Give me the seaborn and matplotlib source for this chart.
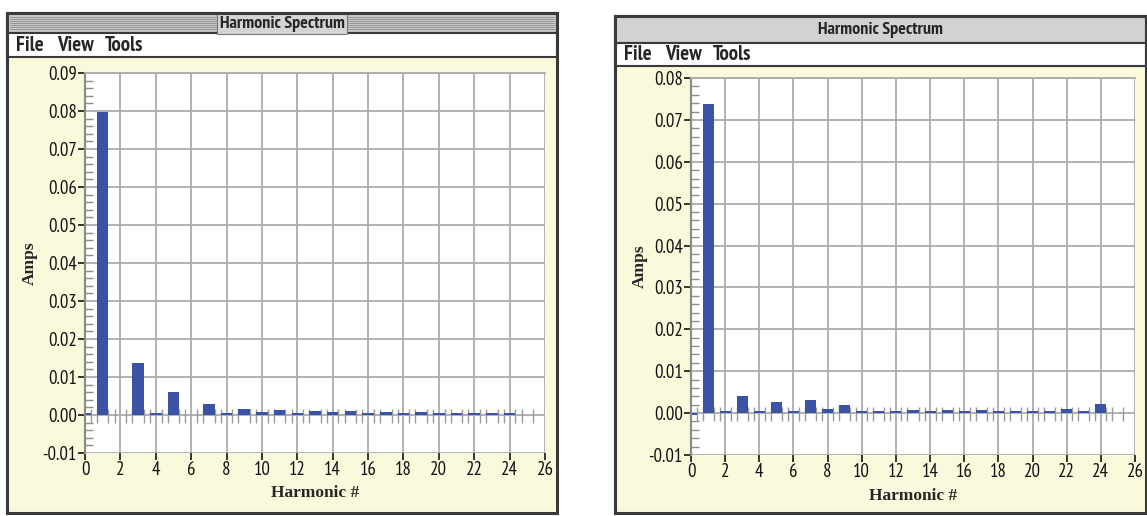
import numpy as np
import pandas as pd
import matplotlib
matplotlib.use("Agg")
import matplotlib.pyplot as plt
from matplotlib.patches import Rectangle
from matplotlib.lines import Line2D
from matplotlib.ticker import MultipleLocator, AutoMinorLocator, FormatStrFormatter
import seaborn as sns
import logging

logging.getLogger("matplotlib.font_manager").setLevel(logging.ERROR)

# Harmonic number -> amplitude (A)
harmonics = list(range(26))
amps_left = [0.0004, 0.0798, 0.0, 0.0137, 0.0004, 0.0061, 0.0, 0.0030, 0.0004, 0.0016,
             0.0007, 0.0014, 0.0004, 0.0010, 0.0007, 0.0010, 0.0004, 0.0007, 0.0004, 0.0007,
             0.0004, 0.0004, 0.0004, 0.0004, 0.0004, 0.0]
amps_right = [-0.0004, 0.0737, 0.0005, 0.0042, 0.0005, 0.0026, 0.0005, 0.0032, 0.0011, 0.0020,
              0.0005, 0.0005, 0.0005, 0.0007, 0.0005, 0.0007, 0.0005, 0.0007, 0.0005, 0.0005,
              0.0005, 0.0005, 0.0011, 0.0005, 0.0022, 0.0]
ylims = [(-0.01, 0.09), (-0.01, 0.08)]
window_title = "Harmonic Spectrum"
menu_items = ["File", "View", "Tools"]
x_label = "Harmonic #"
y_label = "Amps"

sns.set_theme(style="white")
NARROW = ['Liberation Sans Narrow', 'Arial Narrow', 'PT Sans Narrow', 'Archivo Narrow',
          'Roboto Condensed', 'DejaVu Sans']
plt.rcParams['font.family'] = NARROW
plt.rcParams['axes.unicode_minus'] = False

W, H = 1147, 516
fig = plt.figure(figsize=(W / 100, H / 100), dpi=100)
fig.patch.set_facecolor("white")

BAR = "#3B53A5"
GRID = "#ABABAB"
YELLOW = "#FAF9DC"
BAR_W = 0.65
menu_offsets = [9, 50, 98]   # px from window's left edge


def rect(x0, y0, x1, y1, **kw):
    fig.add_artist(Rectangle((x0 / W, 1 - y1 / H), (x1 - x0) / W, (y1 - y0) / H,
                             transform=fig.transFigure, **kw))


def hline(x0, x1, y, **kw):
    fig.add_artist(Line2D([x0 / W, x1 / W], [1 - y / H, 1 - y / H],
                          transform=fig.transFigure, **kw))


# box = window edges, bar = bottom of title bar, sep = bottom of menu bar (pixels)
windows = [
    dict(box=(7, 13, 557, 513), bar=33, sep=57, title_y=23.5, axbox=(85, 73, 545, 453),
         striped=True, title_fc="#C9C9C9", amps=amps_left, ylim=ylims[0],
         ylab_x=-0.12, xlab_y=-0.105),
    dict(box=(615, 16, 1146, 513), bar=43, sep=66, title_y=30, axbox=(691, 78, 1135, 455),
         striped=False, title_fc="#D2D2D2", amps=amps_right, ylim=ylims[1],
         ylab_x=-0.115, xlab_y=-0.108),
]

for w in windows:
    x0, y0, x1, y1 = w["box"]
    bar, sep = w["bar"], w["sep"]
    # window chrome
    rect(x0, sep, x1, y1, fc=YELLOW, ec="none", zorder=-2)
    rect(x0, y0, x1, bar, fc=w["title_fc"], ec="#3A3A3A", lw=1.5, zorder=2)
    title_y = 1 - w["title_y"] / H
    if w["striped"]:
        for yy in range(y0 + 4, bar - 2, 2):
            hline(x0 + 3, x1 - 3, yy, color="#8E8E8E", lw=0.6, zorder=2.1)
        fig.text((x0 + x1) / 2 / W, title_y, window_title, ha="center", va="center",
                 fontsize=13, fontweight="bold", zorder=3,
                 bbox=dict(fc="#D4D4D4", ec="#7A7A7A", lw=0.8, pad=2.0))
    else:
        fig.text((x0 + x1) / 2 / W, title_y, window_title, ha="center", va="center",
                 fontsize=13, fontweight="bold", zorder=3)
    rect(x0, bar, x1, sep, fc="white", ec="#3A3A3A", lw=1.5, zorder=2)
    for item, off in zip(menu_items, menu_offsets):
        fig.text((x0 + off) / W, 1 - ((bar + sep) / 2 + 0.5) / H, item, ha="left",
                 va="center", fontsize=15, fontweight="bold", zorder=3)
    rect(x0, y0, x1, y1, fc="none", ec="#3A3A3A", lw=2.2, zorder=4)

    # plot area
    l, t, r, b = w["axbox"]
    ax = fig.add_axes([l / W, 1 - b / H, (r - l) / W, (b - t) / H])
    ax.set_facecolor("white")
    df = pd.DataFrame({"harmonic": harmonics, "amps": w["amps"]})
    sns.barplot(data=df, x="harmonic", y="amps", native_scale=True, width=BAR_W,
                color=BAR, saturation=1, errorbar=None, linewidth=0, ax=ax, zorder=2)
    h = np.array(harmonics)
    edges = np.concatenate([h - BAR_W / 2, h + BAR_W / 2])
    ax.vlines(edges, -0.002, 0.0015, colors="#9A9A9A", lw=1, zorder=1)

    ax.set_xlim(0, 26)
    ax.set_ylim(*w["ylim"])
    ax.xaxis.set_major_locator(MultipleLocator(2))
    ax.yaxis.set_major_locator(MultipleLocator(0.01))
    ax.yaxis.set_minor_locator(AutoMinorLocator(5))
    ax.yaxis.set_major_formatter(FormatStrFormatter("%.2f"))
    ax.set_axisbelow(True)
    ax.grid(True, which="major", color=GRID, lw=1.3)

    for side in ["right", "bottom"]:
        ax.spines[side].set_visible(False)
    ax.spines["top"].set_color(GRID)
    ax.spines["top"].set_linewidth(1.3)
    ax.spines["left"].set_color("#8C8C8C")
    ax.spines["left"].set_linewidth(1.6)

    ax.tick_params(axis="x", which="major", bottom=True, direction="out", length=5,
                   width=1.1, color="black", pad=1, labelsize=13.5, labelcolor="#111111")
    ax.tick_params(axis="y", which="major", left=True, direction="out", length=5,
                   width=1.1, color="black", pad=1, labelsize=13.5, labelcolor="#111111")
    ax.tick_params(axis="y", which="minor", left=True, direction="in", length=6,
                   width=1.0, color="#8C8C8C")

    ax.set_xlabel(x_label, fontfamily="Liberation Serif", fontweight="bold", fontsize=12.5)
    ax.set_ylabel(y_label, fontfamily="Liberation Serif", fontweight="bold", fontsize=12.5)
    ax.xaxis.label.set_va("center")
    ax.yaxis.label.set_va("center")
    ax.xaxis.set_label_coords(0.5, w["xlab_y"])
    ax.yaxis.set_label_coords(w["ylab_x"], 0.5)

fig.savefig("out.png", dpi=100, facecolor="white")
